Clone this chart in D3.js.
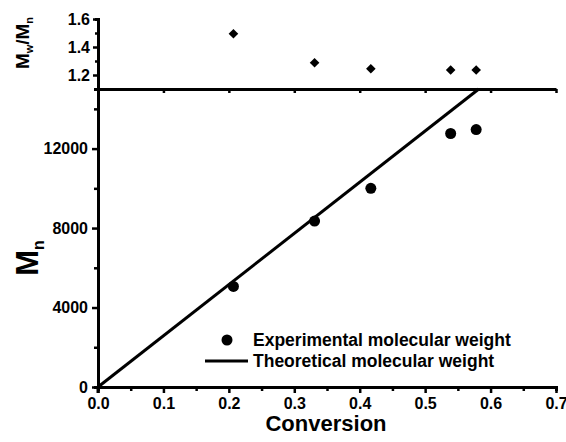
<!DOCTYPE html>
<html>
<head>
<meta charset="utf-8">
<script src="https://cdn.jsdelivr.net/npm/d3@7"></script>
<style>
  body { margin: 0; background: #fff; }
  svg text { font-family: "Liberation Sans", Arial, sans-serif; font-weight: bold; fill: #000; }
</style>
</head>
<body>
<svg id="chart" width="566" height="442"></svg>
<script>
// DATA
const conversion = [0.207, 0.331, 0.417, 0.539, 0.578];
const mnExperimental = [5060, 8350, 10000, 12760, 12960];
const pdi = [1.495, 1.288, 1.245, 1.236, 1.236];
const theoryConversion = [0, 0.582];
const theoryMn = [0, 15000];
const xTicks = [0, 0.1, 0.2, 0.3, 0.4, 0.5, 0.6, 0.7];
const xMinorTicks = [0.05, 0.15, 0.25, 0.35, 0.45, 0.55, 0.65];
const mnTicks = [0, 4000, 8000, 12000];
const mnMinorTicks = [2000, 6000, 10000, 14000];
const pdiTicks = [1.2, 1.4, 1.6];
const pdiMinorTicks = [1.3, 1.5];

// CANVAS SETUP
const svg = d3.select("#chart");
const plotLeft = 98, plotRight = 556, plotBottom = 387, plotSplit = 89, plotTop = 19;

const x = d3.scaleLinear().domain([0, 0.7]).range([plotLeft, plotRight]);
const yMn = d3.scaleLinear().domain([0, 15000]).range([plotBottom, plotSplit]);
const yPdi = d3.scaleLinear().domain([1.1, 1.6]).range([plotSplit, plotTop]);

function styleAxis(g) {
  g.select(".domain").attr("stroke", "#000").attr("stroke-width", 3);
  g.selectAll(".tick line").attr("stroke", "#000").attr("stroke-width", 2.5);
  g.selectAll("text").attr("font-size", 16).attr("fill", "#000");
  return g;
}

// minor ticks first, then major ticks
svg.append("g")
  .attr("transform", `translate(0,${plotBottom})`)
  .call(d3.axisBottom(x).tickValues(xMinorTicks).tickSize(4).tickFormat(""))
  .call(styleAxis);
svg.append("g")
  .attr("transform", `translate(0,${plotBottom})`)
  .call(d3.axisBottom(x).tickValues(xTicks).tickSize(6).tickPadding(5).tickSizeOuter(0).tickFormat(d3.format(".1f")))
  .call(styleAxis);

svg.append("g")
  .attr("transform", `translate(${plotLeft},0)`)
  .call(d3.axisLeft(yMn).tickValues(mnMinorTicks).tickSize(4).tickFormat(""))
  .call(styleAxis);
svg.append("g")
  .attr("transform", `translate(${plotLeft},0)`)
  .call(d3.axisLeft(yMn).tickValues(mnTicks).tickSize(6).tickPadding(4).tickSizeOuter(0).tickFormat(d3.format("d")))
  .call(styleAxis);

// upper panel
svg.append("g")
  .attr("transform", `translate(0,${plotSplit})`)
  .call(d3.axisBottom(x).tickValues(xTicks.slice(1)).tickSize(4).tickSizeOuter(0).tickFormat(""))
  .call(styleAxis);
svg.append("g")
  .attr("transform", `translate(${plotLeft},0)`)
  .call(d3.axisLeft(yPdi).tickValues(pdiMinorTicks).tickSize(3).tickFormat(""))
  .call(styleAxis);
svg.append("g")
  .attr("transform", `translate(${plotLeft},0)`)
  .call(d3.axisLeft(yPdi).tickValues(pdiTicks).tickSize(5).tickPadding(3).tickSizeOuter(0).tickFormat(d3.format(".1f")))
  .call(styleAxis);

// small overhang of the y axis below the x axis
svg.append("line")
  .attr("x1", plotLeft).attr("x2", plotLeft)
  .attr("y1", plotBottom).attr("y2", plotBottom + 6)
  .attr("stroke", "#000").attr("stroke-width", 3);

// theoretical line
const line = d3.line().x((d) => x(d[0])).y((d) => yMn(d[1]));
svg.append("path")
  .datum(d3.zip(theoryConversion, theoryMn))
  .attr("d", line)
  .attr("fill", "none")
  .attr("stroke", "#000")
  .attr("stroke-width", 3);

// experimental points
svg.append("g")
  .selectAll("circle")
  .data(d3.zip(conversion, mnExperimental))
  .join("circle")
  .attr("cx", (d) => x(d[0]))
  .attr("cy", (d) => yMn(d[1]))
  .attr("r", 5.5)
  .attr("fill", "#000");

// PDI diamonds
svg.append("g")
  .selectAll("path")
  .data(d3.zip(conversion, pdi))
  .join("path")
  .attr("transform", (d) => `translate(${x(d[0])},${yPdi(d[1])}) rotate(45)`)
  .attr("d", d3.symbol(d3.symbolSquare, 46))
  .attr("fill", "#000");

// axis titles
svg.append("text")
  .attr("x", (plotLeft + plotRight) / 2 - 1)
  .attr("y", 431)
  .attr("text-anchor", "middle")
  .attr("font-size", 22)
  .text("Conversion");

const mnLabel = svg.append("text")
  .attr("transform", "translate(38,258) rotate(-90)")
  .attr("text-anchor", "middle")
  .attr("font-size", 31);
mnLabel.append("tspan").text("M");
mnLabel.append("tspan").attr("font-size", 16).attr("dy", 6).text("n");

const pdiLabel = svg.append("text")
  .attr("transform", "translate(29,43) rotate(-90)")
  .attr("text-anchor", "middle")
  .attr("font-size", 19);
pdiLabel.append("tspan").text("M");
pdiLabel.append("tspan").attr("font-size", 11).attr("dy", 4).text("w");
pdiLabel.append("tspan").attr("dy", -4).text("/M");
pdiLabel.append("tspan").attr("font-size", 11).attr("dy", 4).text("n");

// legend
const legend = svg.append("g");
legend.append("circle").attr("cx", 227).attr("cy", 340).attr("r", 5.5).attr("fill", "#000");
legend.append("text").attr("x", 253).attr("y", 346).attr("font-size", 17.5).text("Experimental molecular weight");
legend.append("line")
  .attr("x1", 205).attr("x2", 248)
  .attr("y1", 361).attr("y2", 361)
  .attr("stroke", "#000").attr("stroke-width", 3);
legend.append("text").attr("x", 253).attr("y", 367).attr("font-size", 17.5).text("Theoretical molecular weight");
</script>
</body>
</html>
